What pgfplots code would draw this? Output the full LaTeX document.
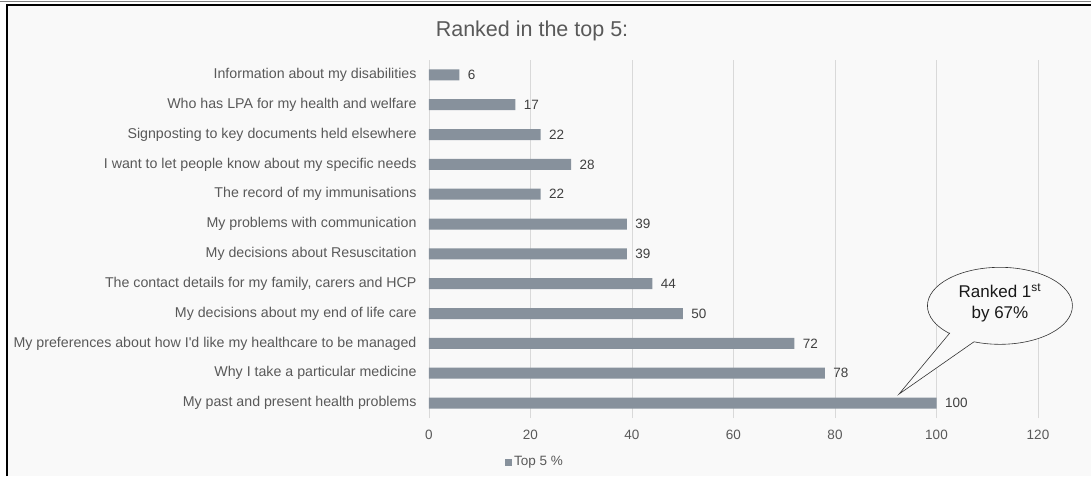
\documentclass[border=0pt]{standalone}
\usepackage{pgfplots}
\pgfplotsset{compat=1.18}
\usepackage{fontspec}
\setmainfont{Liberation Sans}
\usetikzlibrary{shapes.geometric}
\definecolor{bg}{HTML}{F9F9F9}
\definecolor{barc}{HTML}{87919C}
\definecolor{txt}{HTML}{595959}
\definecolor{grd}{HTML}{D9D9D9}
\begin{document}
\begin{tikzpicture}[x=1pt,y=1pt]
\useasboundingbox (-429,-58) rectangle (662,418);
\fill[white] (-429,-58) rectangle (662,418);
\fill[bg] (-422,-58) rectangle (662,413);
\begin{axis}[
  at={(0,0)}, anchor=south west,
  scale only axis, width=609pt, height=358pt,
  xbar, bar width=11pt,
  xmin=0, xmax=120, ymin=-0.5, ymax=11.5,
  xtick={0,20,...,120},
  ytick={0,...,11},
  yticklabels={My past and present health problems,Why I take a particular medicine,My preferences about how I\textquotesingle d like my healthcare to be managed,My decisions about my end of life care,{The contact details for my family, carers and HCP},My decisions about Resuscitation,My problems with communication,The record of my immunisations,I want to let people know about my specific needs,Signposting to key documents held elsewhere,Who has LPA for my health and welfare,Information about my disabilities},
  xmajorgrids, grid style={grd, line width=0.8pt},
  axis x line*=bottom,
  x axis line style={draw=none},
  axis y line*=left,
  y axis line style={grd, line width=0.8pt, -},
  major tick length=0pt,
  yticklabel style={font=\fontsize{14.2}{16}\selectfont, text=txt, xshift=-9pt},
  xticklabel style={font=\fontsize{13.5}{16}\selectfont, text=txt, yshift=-9pt},
  /pgf/number format/assume math mode=true,
  nodes near coords,
  nodes near coords style={font=\fontsize{13.5}{16}\selectfont, text=black!75, xshift=5pt},
  legend style={at={(0.174,-0.123)}, anchor=center, draw=none, fill=none, font=\fontsize{13.5}{16}\selectfont, text=txt},
  legend image code/.code={\fill[barc] (0pt,-3.5pt) rectangle (7pt,3.5pt);},
]
\addplot[fill=barc, draw=none] coordinates {
(100,0) (78,1) (72,2) (50,3) (44,4) (39,5) (39,6) (22,7) (28,8) (22,9) (17,10) (6,11)};
\addlegendentry{Top 5 \%}
\coordinate (tip) at (axis cs:92.6,0.3);
\coordinate (ctr) at (axis cs:112.5,3.26);
\end{axis}
% callout
\node[ellipse, draw=black!80, fill=bg, minimum width=145pt, minimum height=77pt, inner sep=0pt, line width=0.6pt] (ell) at (ctr) {};
\path (ctr) ++(-50pt,-27pt) coordinate (b1);
\path (ctr) ++(-26pt,-36pt) coordinate (b2);
\fill[bg] (b1) -- (tip) -- (b2) -- ++(0,3pt) -- ([yshift=3pt]b1) -- cycle;
\draw[black!80, line width=0.6pt] (b1) -- (tip) -- (b2);
\node[align=center, font=\fontsize{17}{21}\selectfont, text=black!90] at ([yshift=3pt]ctr) {Ranked 1\textsuperscript{st}\\by 67\%};
% title
\node[font=\fontsize{21.5}{24}\selectfont, text=txt] at (103,387) {Ranked in the top 5:};
% frame (top and left only)
\draw[black!50, line width=0.6pt] (-429,416.5) -- (662,416.5);
\draw[black, line width=2.5pt] (-422,-58) -- (-422,413) -- (662,413);
\end{tikzpicture}
\end{document}
